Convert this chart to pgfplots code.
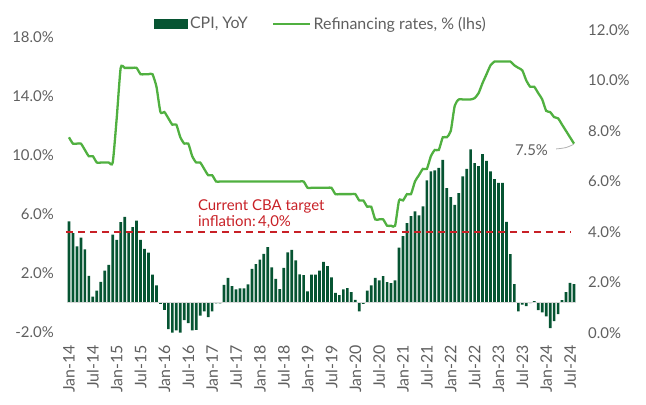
\documentclass[border=0pt]{standalone}
\usepackage{fontspec}
\setmainfont{Lato}
\usepackage{pgfplots}
\usepackage{pgfplotstable}
\pgfplotsset{compat=1.18}
\definecolor{cpigreen}{RGB}{6,84,50}
\definecolor{rategreen}{RGB}{80,176,64}
\definecolor{tgtred}{RGB}{200,32,38}
\definecolor{txtgray}{RGB}{95,95,95}
\pgfplotstableread{
x cpi rate
0 5.5 7.75
1 4.7 7.5
2 3.8 7.5
3 4.4 7.5
4 3.6 7.25
5 1.8 7.0
6 0.4 7.0
7 0.8 6.75
8 1.4 6.75
9 2.15 6.75
10 2.55 6.75
11 4.6 6.75
12 4.25 8.5
13 5.45 10.5
14 5.8 10.5
15 4.77 10.5
16 5.1 10.5
17 5.55 10.5
18 4.25 10.25
19 3.64 10.25
20 3.37 10.25
21 1.88 10.25
22 1.15 9.75
23 -0.1 8.75
24 -0.5 8.75
25 -1.8 8.5
26 -2.05 8.25
27 -1.9 8.25
28 -2.05 7.75
29 -1.2 7.5
30 -1.4 7.5
31 -1.9 7.0
32 -1.85 6.75
33 -0.9 6.75
34 -0.6 6.5
35 -1.0 6.25
36 -0.6 6.25
37 -0.07 6.0
38 -0.07 6.0
39 1.2 6.0
40 1.67 6.0
41 1.1 6.0
42 0.88 6.0
43 0.95 6.0
44 0.95 6.0
45 1.22 6.0
46 2.27 6.0
47 2.6 6.0
48 2.9 6.0
49 3.3 6.0
50 3.75 6.0
51 2.38 6.0
52 1.6 6.0
53 0.9 6.0
54 2.35 6.0
55 3.4 6.0
56 3.57 6.0
57 2.85 6.0
58 1.9 6.0
59 1.85 6.0
60 0.75 5.75
61 1.88 5.75
62 1.88 5.75
63 2.15 5.75
64 2.75 5.75
65 2.47 5.75
66 1.7 5.75
67 0.65 5.5
68 0.5 5.5
69 0.88 5.5
70 0.97 5.5
71 0.7 5.5
72 0.18 5.5
73 -0.6 5.25
74 -0.1 5.25
75 0.8 5.0
76 1.15 5.0
77 1.67 4.5
78 1.49 4.5
79 1.79 4.5
80 1.38 4.25
81 1.31 4.25
82 1.49 4.25
83 3.71 5.25
84 4.5 5.25
85 5.38 5.5
86 5.85 5.5
87 6.17 6.0
88 5.9 6.25
89 6.51 6.5
90 8.27 6.5
91 8.88 7.0
92 8.95 7.25
93 9.13 7.25
94 9.67 7.75
95 7.75 7.75
96 7.14 8.0
97 6.62 9.0
98 7.41 9.25
99 8.54 9.25
100 9.06 9.25
101 10.37 9.25
102 9.45 9.3
103 9.24 9.5
104 10.06 9.9
105 9.6 10.25
106 8.88 10.6
107 8.36 10.75
108 8.11 10.75
109 8.11 10.75
110 5.47 10.75
111 3.28 10.75
112 1.24 10.6
113 -0.61 10.5
114 -0.14 10.4
115 -0.25 10.0
116 -0.05 9.75
117 0.09 9.75
118 -0.52 9.5
119 -0.68 9.25
120 -0.95 8.8
121 -1.74 8.75
122 -1.27 8.55
123 -0.79 8.5
124 0.16 8.25
125 0.7 8.0
126 1.33 7.75
127 1.24 7.5
}\data
\begin{document}
\begin{tikzpicture}
\path (-65bp,-72bp) rectangle (581bp,333bp);
\begin{axis}[
  scale only axis, width=513bp, height=303bp,
  xmin=-1, xmax=128, ymin=-2.07, ymax=18.47,
  axis line style={draw=none}, major tick length=0pt,
  xtick={0,6,...,126},
  xticklabels={Jan-14,Jul-14,Jan-15,Jul-15,Jan-16,Jul-16,Jan-17,Jul-17,Jan-18,Jul-18,Jan-19,Jul-19,Jan-20,Jul-20,Jan-21,Jul-21,Jan-22,Jul-22,Jan-23,Jul-23,Jan-24,Jul-24},
  xticklabel style={rotate=90, anchor=east, inner sep=0pt, xshift=-12bp, font=\fontsize{16}{18}\selectfont, text=txtgray},
  ytick={-2,2,6,10,14,18},
  yticklabels={-2.0\%,2.0\%,6.0\%,10.0\%,14.0\%,18.0\%},
  yticklabel style={anchor=east, inner sep=0pt, xshift=-11bp, font=\fontsize{15}{17}\selectfont, text=txtgray},
  clip=false,
]
\addplot[ybar, bar width=2.7bp, fill=cpigreen, draw=none] table[x=x, y=cpi] {\data};
\addplot[draw=gray!30, line width=1.2bp, forget plot] coordinates {(-0.5,0) (127.5,0)};
\node[anchor=north west, align=left, inner sep=0pt, text=tgtred, font=\fontsize{15}{16.5}\selectfont] at (axis cs:32.4,7.0) {Current CBA target\\inflation:\,4,0\%};
\end{axis}
\begin{axis}[
  scale only axis, width=513bp, height=303bp,
  xmin=-1, xmax=128, ymin=0, ymax=12,
  axis x line=none, axis y line*=right,
  axis line style={draw=none}, major tick length=0pt,
  ytick={0,2,4,6,8,10,12},
  yticklabels={0.0\%,2.0\%,4.0\%,6.0\%,8.0\%,10.0\%,12.0\%},
  yticklabel style={anchor=west, inner sep=0pt, xshift=10bp, font=\fontsize{15}{17}\selectfont, text=txtgray},
  clip=false,
  legend columns=2,
  legend style={at={(0.1735,1.02)}, anchor=west, draw=none, fill=none, inner sep=0pt,
    font=\fontsize{16}{18}\selectfont, text=txtgray,
    nodes={inner sep=2.5bp},
    /tikz/every even column/.append style={column sep=22bp}},
]
\addlegendimage{legend image code/.code={\fill[cpigreen] (0bp,-4.5bp) rectangle (33bp,4.5bp);}}
\addlegendentry{CPI, YoY}
\addplot[rategreen, line width=2.3bp, smooth, tension=0.35, legend image code/.code={\draw[rategreen, line width=1.8bp] (0bp,0bp) -- (37bp,0bp);}] table[x=x, y=rate] {\data};
\addlegendentry{Refinancing rates, \% (lhs)}
\addplot[tgtred, line width=1.8bp, dash pattern=on 7bp off 5bp, forget plot] coordinates {(-0.75,4) (126,4)};
\node[anchor=center, inner sep=0pt, text=txtgray, font=\fontsize{15}{17}\selectfont] at (axis cs:116.3,7.25) {7.5\%};
\draw[gray!60, line width=0.8bp] (axis cs:122.5,7.29) .. controls (axis cs:125,7.33) .. (axis cs:126.9,7.47);
\end{axis}
\end{tikzpicture}
\end{document}
